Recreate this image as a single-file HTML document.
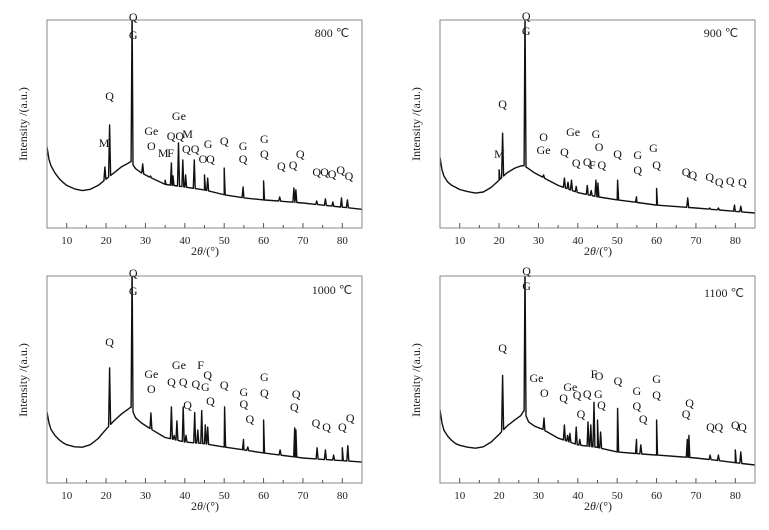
<!DOCTYPE html>
<html><head><meta charset="utf-8"><style>
html,body{margin:0;padding:0;background:#fff}
svg{display:block;font-family:"Liberation Serif",serif}
</style></head><body>
<svg id="c" width="769" height="530" viewBox="0 0 769 530"></svg>
<script>
// ---- data ----
const tempLabels = ["800 ℃","900 ℃","1000 ℃","1100 ℃"];
const xTicks = [10,20,30,40,50,60,70,80];
const base800X = [5,5.5,6,7,8,9,10,12,14,16,18,20,22,24,25.5,26.3,27.5,29,31,35,40,45,50,55,60,65,70,75,80,85];
const base800Y = [39,33,30,26.5,24,22,20.5,18.8,18,18.6,20.5,23.5,26.5,29.5,31,32,28.5,26.5,24.5,21,19.7,18.3,16,14.5,13.5,12.8,12,11,10,9];
const peak800X = [19.7,20.9,26.6,29.3,31.3,35,36.6,37,38.4,39.5,40.2,42.4,45,45.8,50,54.8,60,64.1,67.7,68.2,73.5,75.7,77.6,79.8,81.3];
const peak800Y = [29.3,49.5,105,30.8,25,23,31.3,25,40.9,32.7,25.5,32.7,25.5,24,28.8,19.7,22.6,14.9,19.2,18.3,13,14,12.5,14.4,13.5];
const base900X = [5,5.5,6,7,8,9,10,12,14,16,18,20,22,24,25.5,26.3,27.5,29,31,35,40,45,50,55,60,65,70,75,80,85];
const base900Y = [34,28,25,22,20.5,19.5,18.5,17.5,16.8,17.3,19.5,23,26.5,28.8,29.8,30,28.5,26.5,24.5,20.5,17,15,13.5,12.3,11,10.3,9.6,8.8,8,7.2];
const peak900X = [20,20.9,26.6,31.3,36.6,37.5,38.4,39.6,42.4,43.4,44.6,45.1,50.1,54.9,60,67.9,73.5,75.7,79.8,81.4];
const peak900Y = [28,45.6,105,25.5,24,22,23,20,20.5,18,23,21.6,23,15,19,14.4,9.6,9.6,11,10.5];
const base1000X = [5,5.5,6,7,8,9,10,12,14,16,18,20,22,24,25.5,26.3,27.5,29,31,35,40,45,50,55,60,65,70,75,80,85];
const base1000Y = [34.3,29,26,23,21,19.5,18.5,17.5,17.3,18.5,21.5,26,30,33.5,35.5,36.7,31.5,29,26.5,22,19.8,19,17.4,16,14.5,13.3,12.1,11.4,10.8,10.1];
const peak1000X = [20.9,26.6,31.4,36.6,37.3,38,39.6,40.3,42.5,43.3,44.3,45.2,45.8,50.1,54.9,56,60,64.2,67.9,68.2,73.6,75.7,77.8,80,81.4];
const peak1000Y = [55.6,105,33.8,36.7,23,30,36.7,23,34,25.6,35,28,27,36.7,21,17.4,30.4,16,26.6,25.6,17,16,13.5,17,18];
const base1100X = [5,5.5,6,7,8,9,10,12,14,16,18,20,22,24,25.5,26.3,27.5,29,31,35,40,45,50,55,60,65,70,75,80,85];
const base1100Y = [35.3,29,25.5,22.5,20.5,19,18.2,17.3,16.8,17.5,19.8,23.5,27.5,30.5,32.5,35,29.5,27.5,26,21.7,18.4,17.2,15,14.2,13.5,12.8,12.1,11,9.8,8.7];
const peak1100X = [20.9,26.6,31.4,36.6,37.4,38,39.6,40.5,42.6,43.3,44.1,45,45.8,50.1,54.9,56,60,67.8,68.2,73.6,75.7,80,81.4];
const peak1100Y = [52,105,31.4,28,23,24,27,21,29.5,28,39,30.4,24.6,36,21,18.4,30.4,21,23,13.5,13.5,16,15];
// phase labels: text, 2theta, absolute y
const lab800 = [["Q",26.9,16],["G",26.9,34],["Q",20.9,95],["M",19.5,142],["Ge",31.5,130],["O",31.5,145],["Ge",38.5,115],["Q",36.5,135],["Q",38.7,135],["M",40.7,133],["M",34.5,152],["F",36.4,152],["Q",40.4,148],["Q",42.6,148],["G",45.9,143],["O",44.6,158],["Q",46.5,158],["Q",50,140],["G",54.8,145],["Q",54.8,158],["G",60.2,138],["Q",60.2,153],["Q",64.5,165],["Q",67.5,164],["Q",69.3,153],["Q",73.5,171],["Q",75.5,171],["Q",77.4,173],["Q",79.6,169],["Q",81.7,175]];
const lab900 = [["Q",26.9,15],["G",26.9,30],["Q",20.9,103],["M",20.1,153],["O",31.3,136],["Ge",31.3,149],["Ge",38.8,131],["Q",36.6,151],["Q",39.6,162],["Q",42.4,161],["F",43.7,164],["G",44.6,133],["O",45.4,146],["Q",46.1,164],["Q",50.1,153],["G",55.2,154],["Q",55.2,169],["G",59.2,147],["Q",60,164],["Q",67.5,171],["Q",69.2,174],["Q",73.5,176],["Q",75.9,181],["Q",78.7,180],["Q",81.8,181]];
const lab1000 = [["Q",26.9,272],["G",26.9,290],["Q",20.9,341],["Ge",31.5,373],["O",31.5,388],["Ge",38.5,364],["Q",36.6,381],["Q",39.6,381],["Q",40.7,404],["Q",42.8,383],["F",44,364],["Q",45.8,374],["G",45.2,386],["Q",46.5,400],["Q",50,384],["G",55,391],["Q",55,403],["Q",56.5,418],["G",60.2,376],["Q",60.2,392],["Q",68.3,393],["Q",67.8,406],["Q",73.3,422],["Q",76,426],["Q",80,426],["Q",82,417]];
const lab1100 = [["Q",27,270],["G",27,285],["Q",20.9,347],["Ge",29.5,377],["O",31.5,392],["Q",36.4,397],["Ge",38.1,386],["Q",39.8,394],["Q",40.8,413],["Q",42.4,393],["F",44.1,373],["O",45.4,375],["G",45.2,393],["Q",46,404],["Q",50.2,380],["G",55,390],["Q",55,405],["Q",56.6,418],["G",60,378],["Q",60,394],["Q",67.5,413],["Q",68.4,402],["Q",73.7,426],["Q",75.8,426],["Q",80,424],["Q",81.8,426]];

const panels = [
 {name:"panel-800",L:47,T:20,B:228,bx:base800X,by:base800Y,px:peak800X,py:peak800Y,lab:lab800,t:tempLabels[0],tx:332,ty:37},
 {name:"panel-900",L:440,T:20,B:228,bx:base900X,by:base900Y,px:peak900X,py:peak900Y,lab:lab900,t:tempLabels[1],tx:721,ty:37},
 {name:"panel-1000",L:47,T:276,B:483,bx:base1000X,by:base1000Y,px:peak1000X,py:peak1000Y,lab:lab1000,t:tempLabels[2],tx:332,ty:294},
 {name:"panel-1100",L:440,T:276,B:483,bx:base1100X,by:base1100Y,px:peak1100X,py:peak1100Y,lab:lab1100,t:tempLabels[3],tx:724,ty:297}
];
const W = 315;
const NS = "http://www.w3.org/2000/svg";
const svg = document.getElementById('c');
function mk(tag, attrs, parent){const e=document.createElementNS(NS,tag);for(const k in attrs)e.setAttribute(k,attrs[k]);(parent||svg).appendChild(e);return e;}
function interp(xs,ys,x){for(let i=0;i<xs.length-1;i++){if(x>=xs[i]&&x<=xs[i+1]){return ys[i]+(ys[i+1]-ys[i])*(x-xs[i])/(xs[i+1]-xs[i]);}}return ys[ys.length-1];}

panels.forEach((p,pi)=>{
  const g = mk('g',{});
  
  
  const H = p.B - p.T;
  const sx = v => p.L + (v-5)/80*W;
  const sy = v => p.B - v/100*H;
  const clipId = 'clip'+pi;
  const cp = mk('clipPath',{id:clipId},g); mk('rect',{x:p.L,y:p.T,width:W,height:H},cp);
  let pts = p.bx.map((x,i)=>[x,p.by[i]]);
  p.px.forEach((x,i)=>{
    const w = 0.25;
    pts.push([x-w, interp(p.bx,p.by,x-w)]);
    pts.push([x, p.py[i]]);
    pts.push([x+w, interp(p.bx,p.by,x+w)]);
  });
  pts.sort((a,b)=>a[0]-b[0]);
  const d = pts.map((q,i)=>(i?'L':'M')+sx(q[0]).toFixed(1)+' '+sy(q[1]).toFixed(1)).join(' ');
  const line = mk('path',{d:d,fill:'none',stroke:'#111','stroke-width':1.4,'stroke-linejoin':'round','clip-path':'url(#'+clipId+')'},g);
  
  
  const box = mk('rect',{x:p.L,y:p.T,width:W,height:H,fill:'none',stroke:'#888','stroke-width':1},g);
  
  
  for(let v=10; v<=80; v+=5){
    const major = v%10===0;
    mk('line',{x1:sx(v),x2:sx(v),y1:p.B,y2:p.B-(major?5:3),stroke:'#555','stroke-width':1},g);
  }
  xTicks.forEach(v=>{
    const t = mk('text',{x:sx(v),y:p.B+16,'font-size':11,'text-anchor':'middle',fill:'#222'},g);
    t.textContent = v;
    
    
  });
  const xl = mk('text',{x:p.L+158,y:p.B+27,'font-size':12,'text-anchor':'middle',fill:'#222'},g);
  xl.innerHTML = '2<tspan font-style="italic">θ</tspan>/(°)';
  
  
  const yx = p.L-20, yy = p.T+104;
  const yl = mk('text',{x:yx,y:yy,'font-size':12,'text-anchor':'middle',fill:'#222',transform:'rotate(-90 '+yx+' '+yy+')'},g);
  yl.textContent = 'Intensity /(a.u.)';
  
  
  const tt = mk('text',{x:p.tx,y:p.ty,'font-size':12,'text-anchor':'middle',fill:'#222'},g);
  tt.textContent = p.t;
  
  
  p.lab.forEach(l=>{
    const e = mk('text',{x:sx(l[1]),y:l[2]+5,'font-size':12,'text-anchor':'middle',fill:'#111'},g);
    e.textContent = l[0];
    
    
  });
});
</script>
</body></html>
